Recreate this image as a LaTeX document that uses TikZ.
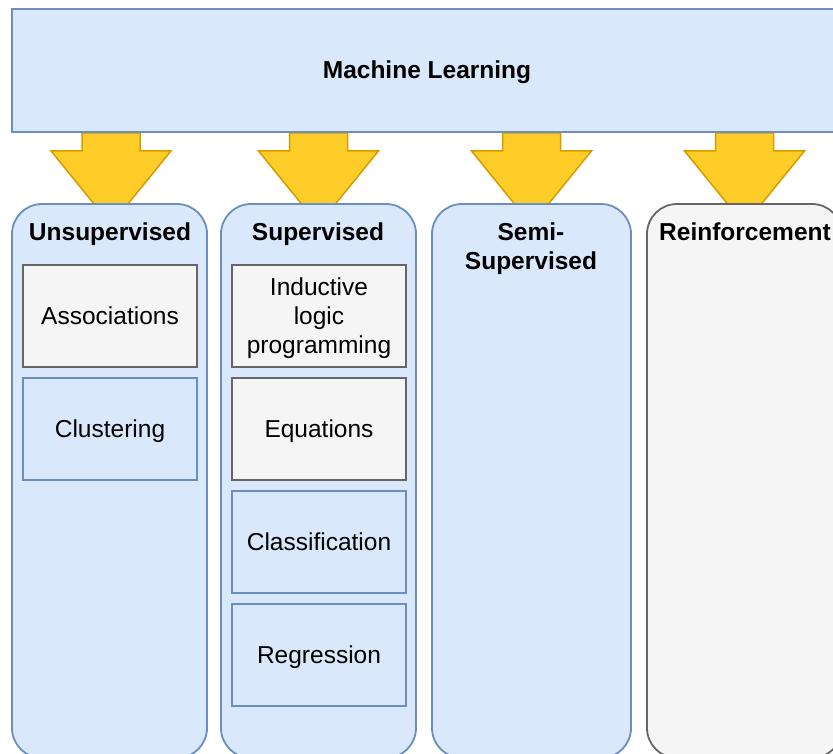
\documentclass[tikz,border=0pt]{standalone}
\usepackage{fontspec}
\setmainfont{Liberation Sans}
\usetikzlibrary{calc}
\definecolor{blueFill}{HTML}{DAE8FC}
\definecolor{blueLine}{HTML}{6C8EBF}
\definecolor{grayFill}{HTML}{F5F5F5}
\definecolor{grayLine}{HTML}{666666}
\definecolor{yellowFill}{HTML}{FFCD28}
\definecolor{yellowLine}{HTML}{D79B00}
\pgfdeclarelayer{back}
\pgfsetlayers{back,main}
% invisible rule that raises the top of the first line of a multi-line label
\newcommand\tallstrut{\rule{0pt}{21.5pt}}
\begin{document}
\begin{tikzpicture}[x=1pt, y=-1pt,
  panel/.style={rectangle, draw, line width=1.8pt, inner sep=0pt},
  bluebox/.style={fill=blueFill, draw=blueLine},
  graybox/.style={fill=grayFill, draw=grayLine},
  oneline/.style={text height=17pt, text depth=3pt},
  itemline/.style={text height=20pt, text depth=3pt},
  column/.style={panel, rounded corners=30pt, minimum width=195pt, minimum height=554pt},
  item/.style={panel, minimum width=174pt, minimum height=102pt, align=center,
    font=\fontsize{24.5}{29}\selectfont},
  heading/.style={inner sep=0pt, align=center, font=\bfseries\fontsize{24.5}{29}\selectfont},
  blockarrow/.style={fill=yellowFill, draw=yellowLine, line width=1.5pt, line join=miter}]
\useasboundingbox (0,0) rectangle (833,753);
\clip (0,0) rectangle (833,753);

% top banner
\node[panel, bluebox, minimum width=830pt, minimum height=123pt,
  text height=17pt, text depth=0.5pt,
  font=\bfseries\fontsize{24.5}{29}\selectfont] (ml) at (427,70.5) {Machine Learning};

% the four learning families
\node[column, bluebox] (uns) at (109.5,481) {};
\node[column, bluebox] (sup) at (318.5,481) {};
\node[column, bluebox, minimum width=199pt] (semi) at (531.5,481) {};
\node[column, graybox] (rein) at (744.5,481) {};

\node[heading, oneline] (unsT) at (110,233) {Unsupervised};
\node[heading, oneline] (supT) at (318,233) {Supervised};
\node[heading] (semiT) at (531,248.5) {Semi-\\Supervised};
\node[heading, oneline] (reinT) at (745,233) {Reinforcement};

% methods per family
\node[item, itemline, graybox] (assoc) at (110,316) {Associations};
\node[item, itemline, bluebox] (clust) at (110,429) {Clustering};
\node[item, graybox] (ilp) at (319,316) {\tallstrut Inductive\\logic\\programming};
\node[item, itemline, graybox] (eq) at (319,429) {Equations};
\node[item, itemline, bluebox] (clas) at (319,542) {Classification};
\node[item, itemline, bluebox] (regr) at (319,655) {Regression};

% block arrows from the banner down to each family
\begin{pgfonlayer}{back}
\foreach \c/\dx in {uns/1.5,sup/0,semi/0,rein/0}
  \draw[blockarrow] ($(ml.south -| \c.north)+(\dx-29,0)$) -- ++(0,18) -- ++(-31,0)
    -- ++(60,74) -- ++(60,-74) -- ++(-31,0) -- ++(0,-18) -- cycle;
\end{pgfonlayer}
\end{tikzpicture}
\end{document}
